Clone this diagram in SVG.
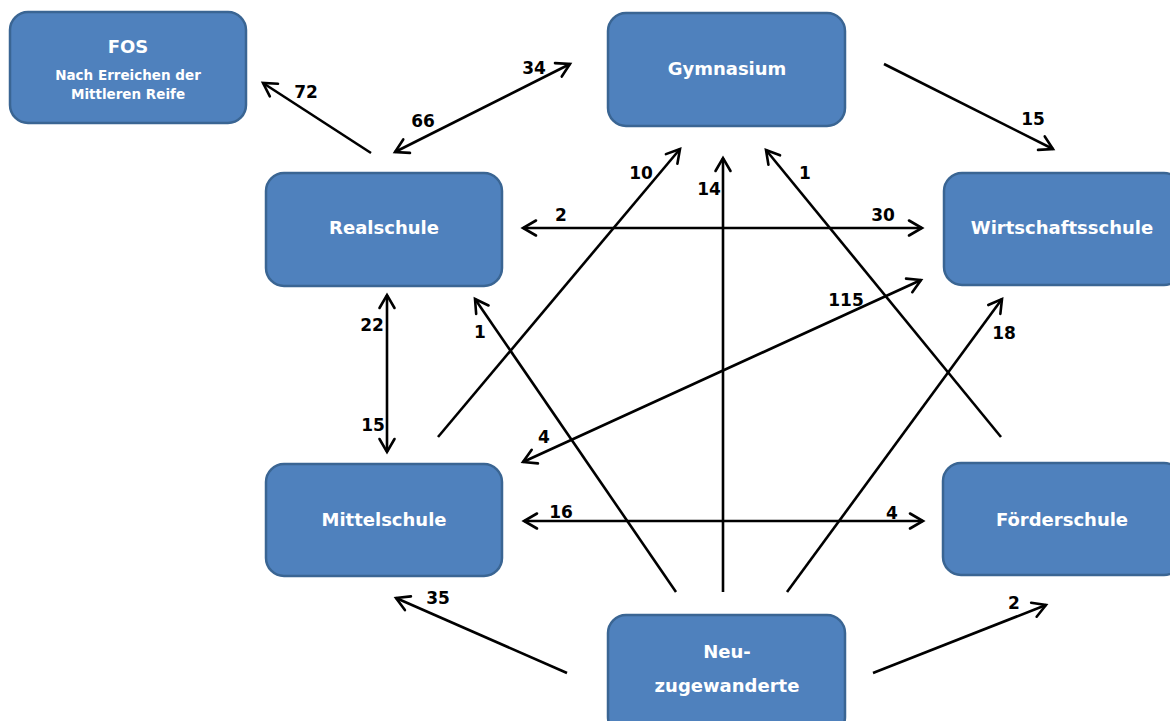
<svg xmlns="http://www.w3.org/2000/svg" width="1170" height="721" viewBox="0 0 1170 721">
<defs>
<marker id="ah" markerUnits="userSpaceOnUse" markerWidth="30" markerHeight="30" refX="0" refY="0" viewBox="-15 -15 30 30" orient="auto-start-reverse">
<path d="M -13 -7.5 L 0 0 L -13 7.5" fill="none" stroke="#000" stroke-width="2.6" stroke-linecap="round" stroke-linejoin="miter"/>
</marker>
</defs>
<style>
.box{fill:#4F81BD;stroke:#3A6593;stroke-width:2.5}
.nt{font-family:"DejaVu Sans",sans-serif;font-weight:bold;font-size:18px;fill:#fff;text-anchor:middle}
.st{font-size:13.5px}
.c{stroke:#000;stroke-width:2.6;fill:none}
.e{marker-end:url(#ah)}
.b{marker-start:url(#ah);marker-end:url(#ah)}
.lb{font-family:"DejaVu Sans",sans-serif;font-weight:bold;font-size:17px;fill:#000;text-anchor:middle}
</style>
<rect width="1170" height="721" fill="#fff"/>
<g id="fos"><rect class="box" x="10" y="12" width="236" height="111" rx="18"/><text class="nt" x="128" y="53">FOS</text><text class="nt st" x="128" y="80">Nach Erreichen der</text><text class="nt st" x="128" y="99">Mittleren Reife</text></g>
<g id="gymnasium"><rect class="box" x="608" y="13" width="237" height="113" rx="18"/><text class="nt" x="727" y="75">Gymnasium</text></g>
<g id="realschule"><rect class="box" x="266" y="173" width="236" height="113" rx="18"/><text class="nt" x="384" y="234">Realschule</text></g>
<g id="wirtschaftsschule"><rect class="box" x="944" y="173" width="238" height="112" rx="18"/><text class="nt" x="1062" y="234">Wirtschaftsschule</text></g>
<g id="mittelschule"><rect class="box" x="266" y="464" width="236" height="112" rx="18"/><text class="nt" x="384" y="526">Mittelschule</text></g>
<g id="foerderschule"><rect class="box" x="943" y="463" width="239" height="112" rx="18"/><text class="nt" x="1062" y="526">Förderschule</text></g>
<g id="neuzugewanderte"><rect class="box" x="608" y="615" width="237" height="120" rx="18"/><text class="nt" x="727" y="658">Neu-</text><text class="nt" x="727" y="692">zugewanderte</text></g>
<g id="connectors">
<line class="c e" x1="371" y1="153" x2="263" y2="83"/>
<line class="c b" x1="395" y1="152" x2="570" y2="64"/>
<line class="c e" x1="884" y1="64" x2="1053" y2="149"/>
<line class="c b" x1="523" y1="228" x2="922" y2="228"/>
<line class="c b" x1="387" y1="295" x2="387" y2="452"/>
<line class="c e" x1="438" y1="437" x2="680" y2="149"/>
<line class="c e" x1="723" y1="592" x2="723" y2="158"/>
<line class="c e" x1="1001" y1="437" x2="766" y2="150"/>
<line class="c b" x1="523" y1="462" x2="921" y2="280"/>
<line class="c e" x1="676" y1="592" x2="475" y2="299"/>
<line class="c e" x1="787" y1="592" x2="1002" y2="299"/>
<line class="c b" x1="524" y1="521" x2="923" y2="521"/>
<line class="c e" x1="567" y1="673" x2="396" y2="598"/>
<line class="c e" x1="873" y1="673" x2="1046" y2="605"/>
</g>
<g id="labels">
<text class="lb" x="306" y="98">72</text>
<text class="lb" x="534" y="74">34</text>
<text class="lb" x="423" y="127">66</text>
<text class="lb" x="641" y="179">10</text>
<text class="lb" x="709" y="195">14</text>
<text class="lb" x="805" y="179">1</text>
<text class="lb" x="1033" y="125">15</text>
<text class="lb" x="883" y="221">30</text>
<text class="lb" x="561" y="221">2</text>
<text class="lb" x="846" y="306">115</text>
<text class="lb" x="1004" y="339">18</text>
<text class="lb" x="372" y="331">22</text>
<text class="lb" x="480" y="338">1</text>
<text class="lb" x="373" y="431">15</text>
<text class="lb" x="544" y="443">4</text>
<text class="lb" x="561" y="518">16</text>
<text class="lb" x="892" y="519">4</text>
<text class="lb" x="438" y="604">35</text>
<text class="lb" x="1014" y="609">2</text>
</g>
</svg>
